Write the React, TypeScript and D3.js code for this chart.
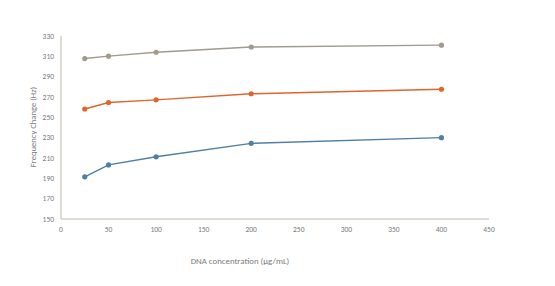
import React from "react";
import * as d3 from "d3";

const concentrations = [25, 50, 100, 200, 400];
const seriesGray = [307.8, 310.2, 314, 319.2, 321];
const seriesOrange = [258.2, 264.6, 267.2, 273.2, 277.6];
const seriesBlue = [191.5, 203.2, 211.2, 224.4, 230];
const xTicks = [0, 50, 100, 150, 200, 250, 300, 350, 400, 450];
const yTicks = [150, 170, 190, 210, 230, 250, 270, 290, 310, 330];

const series = [
  { name: "gray", values: seriesGray, color: "#9f9b8d" },
  { name: "orange", values: seriesOrange, color: "#e0652c" },
  { name: "blue", values: seriesBlue, color: "#4f7ea6" },
];

export default function App() {
  const W = 555, H = 286;
  const x = d3.scaleLinear().domain([0, 450]).range([61, 489]);
  const y = d3.scaleLinear().domain([150, 330]).range([219, 36]);
  const line = d3
    .line<number>()
    .x((_, i) => x(concentrations[i]))
    .y((d) => y(d));
  const font = "Calibri, Carlito, 'Liberation Sans', Arial, sans-serif";
  const textColor = "#7a7a7a";
  return (
    <svg width={W} height={H} style={{ position: "absolute", left: 0, top: 0 }}>
      <rect width={W} height={H} fill="#fff" />
      <line x1={x(0)} x2={x(0)} y1={y(330)} y2={y(150)} stroke="#d5d1c8" strokeWidth={1.5} />
      <line x1={x(0)} x2={x(450)} y1={y(150)} y2={y(150)} stroke="#d5d1c8" strokeWidth={1.5} />
      {yTicks.map((t) => (
        <text key={t} x={54} y={y(t)} dy="0.35em" textAnchor="end" fontSize={7.5} fill={textColor} fontFamily={font}>
          {t}
        </text>
      ))}
      {xTicks.map((t) => (
        <text key={t} x={x(t)} y={229} dy="0.35em" textAnchor="middle" fontSize={7.5} fill={textColor} fontFamily={font}>
          {t}
        </text>
      ))}
      <text
        transform={`translate(33,127) rotate(-90)`}
        textAnchor="middle"
        dy="0.35em"
        fontSize={8.6}
        fill={textColor}
        fontFamily={font}
      >
        Frequency Change (Hz)
      </text>
      <text x={240} y={261} dy="0.35em" textAnchor="middle" fontSize={8.8} fill={textColor} fontFamily={font}>
        DNA concentration (µg/mL)
      </text>
      {series.map((s) => (
        <g key={s.name}>
          <path d={line(s.values) || ""} fill="none" stroke={s.color} strokeWidth={1.4} />
          {s.values.map((v, i) => (
            <circle key={i} cx={x(concentrations[i])} cy={y(v)} r={2.6} fill={s.color} />
          ))}
        </g>
      ))}
    </svg>
  );
}
